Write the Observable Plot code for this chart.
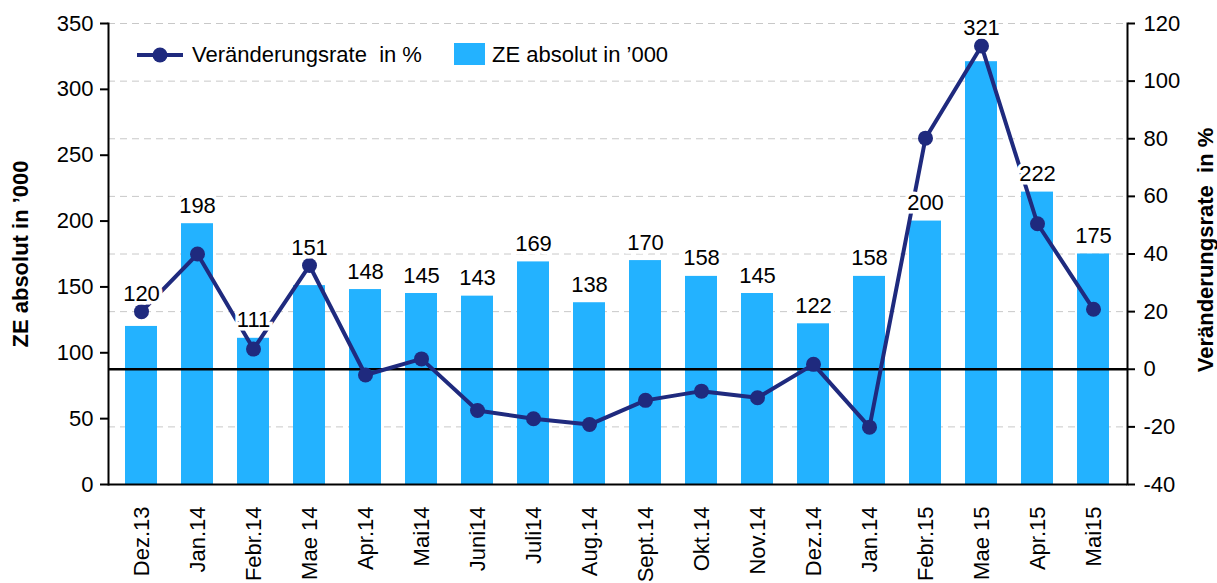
<!DOCTYPE html>
<html>
<head>
<meta charset="utf-8">
<script src="https://cdn.jsdelivr.net/npm/d3@7"></script>
<script src="https://cdn.jsdelivr.net/npm/@observablehq/plot@0.6"></script>
<style>
  html, body { margin: 0; padding: 0; background: #fff; }
  #wrap { position: relative; width: 1217px; height: 583px; overflow: hidden; font-family: "Liberation Sans", Arial, sans-serif; }
  .leg { position: absolute; font-size: 22px; color: #000; white-space: pre; line-height: 24px; }
</style>
</head>
<body>
<div id="wrap"></div>
<script>
// ---- data ----
const months = ["Dez.13","Jan.14","Febr.14","Mae 14","Apr.14","Mai14","Juni14","Juli14","Aug.14","Sept.14","Okt.14","Nov.14","Dez.14","Jan.14","Febr.15","Mae 15","Apr.15","Mai15"];
const zeAbsolut = [120,198,111,151,148,145,143,169,138,170,158,145,122,158,200,321,222,175];
const veraenderungsrate = [20,40,7,36,-2,3.6,-14.3,-17.2,-19.2,-10.8,-7.6,-9.9,1.7,-20.1,80.2,112.2,50.5,20.8];
const leftTicks = [0,50,100,150,200,250,300,350];
const rightTicks = [-40,-20,0,20,40,60,80,100,120];
const leftTitle = "ZE absolut in \u2019000";
const rightTitle = "Veränderungsrate  in %";
const legendLine = "Veränderungsrate  in %";
const legendBar = "ZE absolut in \u2019000";

// ---- colours ----
const barColor = "#23b2ff";
const lineColor = "#1f2a7e";

// map the right (rate) axis onto the left (absolute) axis
const L0 = 0, L1 = 350, R0 = -40, R1 = 120;
const toLeft = r => (r - R0) * (L1 - L0) / (R1 - R0) + L0;
const fromLeft = v => (v - L0) * (R1 - R0) / (L1 - L0) + R0;

const rows = months.map((m, i) => {
  const rateY = toLeft(veraenderungsrate[i]);
  const abs = zeAbsolut[i];
  // label sits above the bar, or above the marker when the marker is just above the bar
  const labelY = (rateY > abs && rateY - abs < 30) ? rateY : abs;
  return {i, m, abs, rate: veraenderungsrate[i], rateY, labelY};
});

const font = "'Liberation Sans', Arial, sans-serif";

const chart = Plot.plot({
  width: 1217,
  height: 583,
  marginTop: 23,
  marginBottom: 99,
  marginLeft: 108,
  marginRight: 90,
  style: {fontFamily: font, fontSize: "22px", color: "#000", background: "#fff"},
  x: {domain: d3.range(months.length), paddingInner: 0.42, paddingOuter: 0.21, label: null},
  y: {domain: [L0, L1], label: null},
  marks: [
    Plot.gridY(rightTicks.filter(t => t !== R0 && t !== 0).map(toLeft), {stroke: "#c8c8c8", strokeOpacity: 1, strokeDasharray: "7,5", strokeWidth: 1}),
    Plot.barY(rows, {x: "i", y: "abs", fill: barColor}),
    Plot.ruleY([toLeft(0)], {stroke: "#000", strokeWidth: 2.5}),
    Plot.ruleY([L0], {stroke: "#000", strokeWidth: 2}),
    Plot.frame({anchor: "left", stroke: "#000", strokeWidth: 2}),
    Plot.frame({anchor: "right", stroke: "#000", strokeWidth: 2}),
    Plot.line(rows, {x: "i", y: "rateY", stroke: lineColor, strokeWidth: 4}),
    Plot.dot(rows, {x: "i", y: "rateY", r: 7.5, fill: lineColor, stroke: lineColor, strokeWidth: 0}),
    Plot.text(rows, {x: "i", y: "labelY", text: d => String(d.abs), dy: -18, fontSize: 22, fill: "#000", stroke: "#fff", strokeWidth: 7, strokeLinejoin: "miter"}),
    Plot.axisX({ticks: d3.range(months.length), tickFormat: i => months[i], tickRotate: -90, tickSize: 0, tickPadding: 22, fontSize: 22, label: null}),
    Plot.axisY({anchor: "left", ticks: leftTicks, tickSize: 8, tickPadding: 7, fontSize: 22, label: null, strokeWidth: 2}),
    Plot.axisY({anchor: "right", ticks: rightTicks.map(toLeft), tickFormat: v => String(Math.round(fromLeft(v))), tickSize: 7, tickPadding: 9, fontSize: 22, label: null, strokeWidth: 2}),
    Plot.text([leftTitle], {frameAnchor: "left", textAnchor: "middle", dx: -88, rotate: -90, fontSize: 22, fontWeight: "bold", fill: "#000"}),
    Plot.text([rightTitle], {frameAnchor: "right", textAnchor: "middle", dx: 78, dy: -4, rotate: -90, fontSize: 22, fontWeight: "bold", fill: "#000"})
  ]
});

const wrap = document.getElementById("wrap");
wrap.appendChild(chart);

// legend (inside the plot area, top-left)
const legHtml = `
<svg style="position:absolute;left:137px;top:44px" width="48" height="22">
  <line x1="0" y1="11" x2="46" y2="11" stroke="${lineColor}" stroke-width="4"/>
  <circle cx="23" cy="11" r="7.5" fill="${lineColor}"/>
</svg>
<div class="leg" style="left:192px;top:43px">${legendLine}</div>
<div style="position:absolute;left:454px;top:43px;width:31px;height:22px;background:${barColor}"></div>
<div class="leg" style="left:492px;top:43px">${legendBar}</div>`;
wrap.insertAdjacentHTML("beforeend", legHtml);
</script>
</body>
</html>
